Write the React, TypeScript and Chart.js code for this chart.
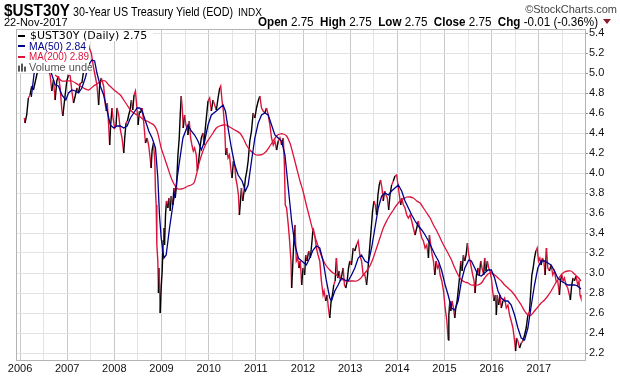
import React, { useEffect, useRef } from 'react';
import { Chart, registerables } from 'chart.js';

Chart.register(...registerables);

// ---- data (dates as decimal years) ----
const priceDates = [
  2006.092, 2006.106, 2006.142, 2006.177, 2006.213, 2006.248, 2006.284, 2006.355, 2006.40, 2006.44,
  2006.47, 2006.50, 2006.53, 2006.57, 2006.61, 2006.638, 2006.674, 2006.709, 2006.745, 2006.780,
  2006.816, 2006.851, 2006.887, 2006.908, 2006.957, 2006.993, 2007.028, 2007.064, 2007.099, 2007.135,
  2007.170, 2007.206, 2007.241, 2007.277, 2007.312, 2007.348, 2007.397, 2007.433, 2007.468, 2007.511,
  2007.560, 2007.582, 2007.610, 2007.631, 2007.667, 2007.688, 2007.723, 2007.773, 2007.809, 2007.830,
  2007.851, 2007.879, 2007.901, 2007.922, 2007.950, 2007.972, 2008.007, 2008.035, 2008.057, 2008.092,
  2008.128, 2008.163, 2008.199, 2008.220, 2008.248, 2008.277, 2008.305, 2008.333, 2008.362, 2008.390,
  2008.418, 2008.447, 2008.475, 2008.504, 2008.532, 2008.553, 2008.589, 2008.624, 2008.660, 2008.695,
  2008.730, 2008.759, 2008.780, 2008.801, 2008.830, 2008.858, 2008.872, 2008.887, 2008.901, 2008.922,
  2008.936, 2008.950, 2008.972, 2008.993, 2009.014, 2009.035, 2009.050, 2009.064, 2009.085, 2009.106,
  2009.135, 2009.156, 2009.184, 2009.206, 2009.241, 2009.262, 2009.291, 2009.319, 2009.348, 2009.376,
  2009.397, 2009.418, 2009.440, 2009.461, 2009.489, 2009.518, 2009.546, 2009.560, 2009.589, 2009.617,
  2009.645, 2009.674, 2009.702, 2009.738, 2009.759, 2009.787, 2009.816, 2009.844, 2009.879, 2009.901,
  2009.929, 2009.957, 2009.986, 2010.021, 2010.057, 2010.092, 2010.128, 2010.163, 2010.199, 2010.234,
  2010.255, 2010.284, 2010.312, 2010.340, 2010.362, 2010.383, 2010.411, 2010.440, 2010.468, 2010.496,
  2010.525, 2010.553, 2010.574, 2010.603, 2010.631, 2010.652, 2010.674, 2010.695, 2010.723, 2010.752,
  2010.780, 2010.809, 2010.837, 2010.872, 2010.908, 2010.943, 2010.979, 2011.014, 2011.050, 2011.085,
  2011.121, 2011.156, 2011.191, 2011.227, 2011.262, 2011.298, 2011.333, 2011.369, 2011.404, 2011.440,
  2011.475, 2011.511, 2011.546, 2011.582, 2011.603, 2011.624, 2011.652, 2011.688, 2011.716, 2011.745,
  2011.759, 2011.780, 2011.801, 2011.830, 2011.858, 2011.887, 2011.915, 2011.943, 2011.972, 2012.000,
  2012.035, 2012.057, 2012.085, 2012.121, 2012.156, 2012.191, 2012.213, 2012.248, 2012.284, 2012.319,
  2012.355, 2012.390, 2012.426, 2012.447, 2012.482, 2012.511, 2012.539, 2012.567, 2012.596, 2012.624,
  2012.652, 2012.681, 2012.709, 2012.738, 2012.766, 2012.794, 2012.823, 2012.851, 2012.879, 2012.908,
  2012.936, 2012.965, 2012.993, 2013.028, 2013.064, 2013.099, 2013.135, 2013.170, 2013.206, 2013.241,
  2013.277, 2013.312, 2013.348, 2013.369, 2013.390, 2013.418, 2013.447, 2013.475, 2013.504, 2013.532,
  2013.560, 2013.589, 2013.617, 2013.645, 2013.674, 2013.702, 2013.730, 2013.759, 2013.787, 2013.816,
  2013.844, 2013.879, 2013.915, 2013.950, 2013.986, 2014.014, 2014.043, 2014.071, 2014.092, 2014.128,
  2014.163, 2014.199, 2014.234, 2014.270, 2014.305, 2014.340, 2014.376, 2014.411, 2014.447, 2014.482,
  2014.518, 2014.553, 2014.589, 2014.624, 2014.660, 2014.681, 2014.709, 2014.738, 2014.766, 2014.794,
  2014.823, 2014.851, 2014.879, 2014.908, 2014.943, 2014.979, 2015.014, 2015.050, 2015.078, 2015.092,
  2015.113, 2015.134, 2015.162, 2015.190, 2015.218, 2015.239, 2015.268, 2015.296, 2015.324, 2015.345,
  2015.373, 2015.401, 2015.430, 2015.458, 2015.486, 2015.514, 2015.542, 2015.570, 2015.599, 2015.627,
  2015.648, 2015.676, 2015.711, 2015.739, 2015.768, 2015.796, 2015.831, 2015.852, 2015.880, 2015.908,
  2015.937, 2015.965, 2015.993, 2016.021, 2016.049, 2016.077, 2016.099, 2016.120, 2016.148, 2016.176,
  2016.204, 2016.239, 2016.275, 2016.310, 2016.345, 2016.380, 2016.415, 2016.451, 2016.486, 2016.507,
  2016.528, 2016.556, 2016.592, 2016.627, 2016.662, 2016.697, 2016.732, 2016.768, 2016.803, 2016.824,
  2016.852, 2016.880, 2016.908, 2016.937, 2016.965, 2016.993, 2017.021, 2017.049, 2017.077, 2017.106,
  2017.134, 2017.162, 2017.190, 2017.225, 2017.261, 2017.296, 2017.331, 2017.366, 2017.401, 2017.437,
  2017.458, 2017.486, 2017.514, 2017.542, 2017.577, 2017.613, 2017.648, 2017.669, 2017.697, 2017.725,
  2017.754, 2017.789, 2017.824, 2017.852, 2017.873, 2017.893,
];
const priceValues = [
  4.55, 4.50, 4.58, 4.75, 4.78, 4.87, 4.83, 4.98, 5.08, 5.17,
  5.12, 5.22, 5.14, 5.08, 5.02, 4.98, 4.82, 4.93, 4.73, 4.92,
  4.97, 4.85, 4.63, 4.57, 4.78, 4.92, 4.98, 4.97, 4.82, 4.70,
  4.77, 4.85, 4.80, 4.90, 4.90, 5.02, 5.12, 5.32, 5.25, 5.20,
  5.05, 5.00, 4.93, 4.88, 4.68, 4.87, 4.95, 4.87, 4.68, 4.62,
  4.70, 4.48, 4.28, 4.48, 4.65, 4.55, 4.45, 4.47, 4.65, 4.58,
  4.43, 4.35, 4.20, 4.35, 4.50, 4.52, 4.58, 4.63, 4.73, 4.63,
  4.78, 4.82, 4.67, 4.48, 4.62, 4.60, 4.65, 4.50, 4.30, 4.35,
  4.27, 4.15, 4.05, 4.23, 4.30, 4.12, 3.82, 3.68, 3.28, 3.12,
  2.80, 3.05, 2.60, 2.85, 3.02, 3.32, 3.45, 3.28, 3.58, 3.72,
  3.65, 3.75, 3.62, 3.77, 3.68, 3.85, 3.75, 3.88, 4.18, 4.35,
  4.58, 4.77, 4.65, 4.45, 4.58, 4.48, 4.45, 4.38, 4.52, 4.35,
  4.28, 4.22, 4.25, 4.18, 4.02, 4.12, 4.25, 4.35, 4.40, 4.28,
  4.45, 4.58, 4.72, 4.75, 4.62, 4.73, 4.68, 4.63, 4.75, 4.85,
  4.87, 4.72, 4.62, 4.45, 4.18, 4.25, 4.15, 4.18, 4.05, 3.95,
  4.12, 4.08, 3.95, 3.88, 3.78, 3.58, 3.72, 3.85, 3.72, 3.82,
  3.95, 4.02, 4.12, 4.32, 4.42, 4.60, 4.55, 4.65, 4.72, 4.77,
  4.65, 4.62, 4.60, 4.65, 4.58, 4.48, 4.35, 4.28, 4.32, 4.23,
  4.32, 4.35, 4.28, 4.35, 4.12, 3.68, 3.65, 3.48, 3.32, 3.12,
  2.85, 3.05, 3.28, 3.48, 3.12, 3.15, 3.05, 3.12, 2.88, 3.05,
  2.98, 3.18, 3.12, 3.22, 3.15, 3.32, 3.45, 3.38, 3.25, 3.18,
  3.12, 2.92, 2.78, 2.82, 2.72, 2.78, 2.65, 2.55, 2.72, 2.78,
  2.88, 2.92, 3.15, 2.95, 3.02, 2.92, 2.98, 3.05, 2.88, 2.85,
  2.92, 3.05, 3.12, 3.08, 3.25, 3.22, 3.28, 3.32, 3.18, 3.12,
  2.98, 2.98, 2.88, 2.98, 3.12, 3.28, 3.45, 3.62, 3.72, 3.68,
  3.58, 3.78, 3.88, 3.93, 3.85, 3.72, 3.82, 3.78, 3.75, 3.63,
  3.78, 3.88, 3.92, 3.97, 3.98, 3.88, 3.78, 3.68, 3.75, 3.68,
  3.65, 3.58, 3.55, 3.58, 3.52, 3.45, 3.38, 3.45, 3.52, 3.42,
  3.35, 3.32, 3.25, 3.28, 3.15, 3.38, 3.28, 3.18, 3.12, 2.98,
  3.12, 3.05, 3.08, 2.98, 2.92, 2.82, 2.65, 2.52, 2.33, 2.58,
  2.72, 2.62, 2.72, 2.65, 2.55, 2.65, 2.72, 2.85, 2.98, 3.12,
  3.02, 3.18, 3.12, 3.18, 3.30, 3.18, 3.12, 3.05, 2.98, 2.92,
  2.80, 2.98, 3.05, 2.98, 3.12, 3.05, 2.98, 3.15, 3.02, 3.12,
  3.05, 3.02, 2.95, 2.82, 2.72, 2.78, 2.58, 2.78, 2.68, 2.78,
  2.65, 2.72, 2.75, 2.65, 2.68, 2.58, 2.52, 2.45, 2.32, 2.22,
  2.35, 2.32, 2.25, 2.30, 2.32, 2.38, 2.45, 2.58, 2.62, 2.78,
  2.98, 3.05, 3.15, 3.22, 3.25, 3.12, 3.15, 3.08, 3.15, 3.12,
  2.98, 3.25, 3.05, 3.02, 3.08, 2.98, 3.02, 2.92, 2.92, 2.78,
  2.92, 2.98, 2.92, 2.95, 2.88, 2.85, 2.78, 2.73, 2.88, 2.95,
  2.92, 2.97, 2.88, 2.92, 2.78, 2.75,
];

const ma50Dates = [
  2006.24, 2006.30, 2006.36, 2006.45, 2006.55, 2006.65, 2006.745, 2006.816, 2006.887, 2006.972,
  2007.028, 2007.099, 2007.170, 2007.241, 2007.312, 2007.383, 2007.454, 2007.525, 2007.582, 2007.631,
  2007.702, 2007.773, 2007.844, 2007.915, 2007.986, 2008.057, 2008.128, 2008.199, 2008.270, 2008.340,
  2008.411, 2008.482, 2008.539, 2008.589, 2008.660, 2008.730, 2008.801, 2008.872, 2008.922, 2008.957,
  2008.993, 2009.050, 2009.099, 2009.170, 2009.241, 2009.312, 2009.383, 2009.454, 2009.560, 2009.631,
  2009.702, 2009.773, 2009.844, 2009.915, 2009.986, 2010.057, 2010.163, 2010.234, 2010.305, 2010.355,
  2010.411, 2010.482, 2010.553, 2010.624, 2010.709, 2010.780, 2010.837, 2010.908, 2010.979, 2011.050,
  2011.121, 2011.191, 2011.262, 2011.333, 2011.404, 2011.475, 2011.546, 2011.617, 2011.688, 2011.759,
  2011.830, 2011.901, 2011.972, 2012.071, 2012.142, 2012.213, 2012.284, 2012.355, 2012.426, 2012.496,
  2012.567, 2012.603, 2012.674, 2012.745, 2012.816, 2012.887, 2012.957, 2013.028, 2013.099, 2013.170,
  2013.241, 2013.312, 2013.383, 2013.454, 2013.525, 2013.596, 2013.667, 2013.738, 2013.809, 2013.879,
  2013.950, 2014.021, 2014.092, 2014.163, 2014.234, 2014.305, 2014.376, 2014.447, 2014.518, 2014.589,
  2014.660, 2014.730, 2014.801, 2014.872, 2014.943, 2015.014, 2015.077, 2015.148, 2015.218, 2015.289,
  2015.359, 2015.430, 2015.514, 2015.570, 2015.641, 2015.711, 2015.782, 2015.852, 2015.923, 2015.993,
  2016.063, 2016.134, 2016.204, 2016.275, 2016.345, 2016.415, 2016.486, 2016.556, 2016.627, 2016.697,
  2016.768, 2016.831, 2016.908, 2016.979, 2017.049, 2017.120, 2017.190, 2017.261, 2017.331, 2017.401,
  2017.472, 2017.542, 2017.613, 2017.683, 2017.754, 2017.824, 2017.893,
];
const ma50Values = [
  4.76, 5.00, 5.18, 5.16, 5.12, 5.02, 4.88, 4.87, 4.78, 4.73,
  4.80, 4.83, 4.82, 4.80, 4.85, 4.95, 5.08, 5.13, 5.12, 5.00,
  4.87, 4.78, 4.63, 4.48, 4.45, 4.47, 4.47, 4.45, 4.47, 4.55,
  4.60, 4.65, 4.65, 4.62, 4.52, 4.42, 4.35, 4.25, 3.95, 3.58,
  3.35, 3.15, 3.18, 3.45, 3.68, 3.88, 4.12, 4.35, 4.48, 4.42,
  4.38, 4.32, 4.23, 4.32, 4.48, 4.58, 4.62, 4.65, 4.68, 4.62,
  4.45, 4.25, 4.08, 3.98, 3.92, 3.82, 3.88, 4.12, 4.35, 4.50,
  4.58, 4.60, 4.58, 4.48, 4.38, 4.35, 4.32, 4.18, 3.85, 3.52,
  3.28, 3.15, 3.12, 3.08, 3.15, 3.23, 3.27, 3.25, 3.12, 2.92,
  2.75, 2.72, 2.82, 2.88, 2.95, 2.93, 2.92, 2.98, 3.05, 3.15,
  3.18, 3.12, 3.10, 3.25, 3.45, 3.65, 3.77, 3.80, 3.78, 3.82,
  3.85, 3.88, 3.82, 3.72, 3.65, 3.58, 3.52, 3.47, 3.43, 3.38,
  3.32, 3.25, 3.18, 3.12, 3.02, 2.88, 2.78, 2.65, 2.63, 2.72,
  2.92, 3.05, 3.13, 3.12, 3.05, 2.98, 2.97, 3.00, 3.03, 3.03,
  2.95, 2.82, 2.75, 2.72, 2.72, 2.68, 2.58, 2.45, 2.35, 2.33,
  2.45, 2.65, 2.88, 3.05, 3.12, 3.12, 3.10, 3.08, 3.02, 2.95,
  2.92, 2.90, 2.88, 2.88, 2.88, 2.87, 2.84,
];

const ma200Dates = [
  2006.745, 2006.816, 2006.887, 2006.993, 2007.099, 2007.241, 2007.348, 2007.454, 2007.560, 2007.631,
  2007.738, 2007.809, 2007.879, 2007.950, 2008.021, 2008.128, 2008.199, 2008.270, 2008.340, 2008.411,
  2008.482, 2008.553, 2008.624, 2008.695, 2008.766, 2008.837, 2008.908, 2008.993, 2009.064, 2009.135,
  2009.206, 2009.277, 2009.348, 2009.418, 2009.489, 2009.560, 2009.631, 2009.688, 2009.738, 2009.809,
  2009.879, 2009.950, 2010.021, 2010.092, 2010.163, 2010.234, 2010.305, 2010.376, 2010.447, 2010.553,
  2010.660, 2010.730, 2010.801, 2010.872, 2010.943, 2011.014, 2011.085, 2011.156, 2011.227, 2011.298,
  2011.369, 2011.440, 2011.511, 2011.582, 2011.652, 2011.723, 2011.794, 2011.865, 2011.936, 2012.000,
  2012.071, 2012.142, 2012.213, 2012.284, 2012.355, 2012.426, 2012.496, 2012.567, 2012.638, 2012.709,
  2012.780, 2012.851, 2012.922, 2012.993, 2013.064, 2013.135, 2013.206, 2013.277, 2013.348, 2013.418,
  2013.489, 2013.560, 2013.631, 2013.702, 2013.773, 2013.844, 2013.915, 2013.986, 2014.057, 2014.128,
  2014.199, 2014.270, 2014.340, 2014.411, 2014.482, 2014.553, 2014.624, 2014.695, 2014.766, 2014.837,
  2014.908, 2014.979, 2015.050, 2015.148, 2015.218, 2015.289, 2015.359, 2015.430, 2015.500, 2015.570,
  2015.641, 2015.711, 2015.782, 2015.852, 2015.923, 2015.993, 2016.063, 2016.134, 2016.204, 2016.275,
  2016.345, 2016.415, 2016.486, 2016.556, 2016.627, 2016.697, 2016.768, 2016.838, 2016.908, 2016.979,
  2017.049, 2017.120, 2017.190, 2017.261, 2017.331, 2017.401, 2017.472, 2017.542, 2017.613, 2017.683,
  2017.754, 2017.824, 2017.893,
];
const ma200Values = [
  4.98, 4.95, 4.92, 4.92, 4.92, 4.88, 4.85, 4.83, 4.87, 4.89,
  4.92, 4.92, 4.88, 4.85, 4.82, 4.78, 4.73, 4.68, 4.63, 4.60,
  4.58, 4.56, 4.53, 4.52, 4.50, 4.48, 4.42, 4.25, 4.15, 4.05,
  3.95, 3.88, 3.84, 3.84, 3.85, 3.87, 3.88, 3.90, 3.98, 4.12,
  4.22, 4.30, 4.35, 4.40, 4.45, 4.47, 4.48, 4.48, 4.46, 4.43,
  4.40, 4.35, 4.28, 4.23, 4.20, 4.18, 4.18, 4.19, 4.22, 4.27,
  4.32, 4.37, 4.39, 4.39, 4.37, 4.30, 4.18, 4.05, 3.92, 3.82,
  3.68, 3.55, 3.42, 3.32, 3.22, 3.13, 3.07, 3.03, 3.00, 2.98,
  2.95, 2.93, 2.92, 2.92, 2.92, 2.92, 2.94, 2.98, 3.02, 3.07,
  3.15, 3.25, 3.35, 3.45, 3.52, 3.58, 3.63, 3.68, 3.72, 3.74,
  3.76, 3.76, 3.75, 3.72, 3.70, 3.65, 3.60, 3.55, 3.48, 3.42,
  3.35, 3.28, 3.22, 3.13, 3.05, 2.98, 2.93, 2.91, 2.90, 2.88,
  2.88, 2.88, 2.90, 2.95, 2.99, 3.00, 2.98, 2.95, 2.92, 2.88,
  2.85, 2.82, 2.78, 2.73, 2.68, 2.62, 2.58, 2.58, 2.62, 2.66,
  2.70, 2.73, 2.77, 2.82, 2.88, 2.93, 2.98, 3.01, 3.02, 3.02,
  2.99, 2.96, 2.92,
];

const yearLabels = [2006, 2007, 2008, 2009, 2010, 2011, 2012, 2013, 2014, 2015, 2016, 2017];
const yTickValues = [2.2, 2.4, 2.6, 2.8, 3.0, 3.2, 3.4, 3.6, 3.8, 4.0, 4.2, 4.4, 4.6, 4.8, 5.0, 5.2, 5.4];

const symbol = '$UST30Y';
const titleText = '30-Year US Treasury Yield (EOD)';
const exchangeText = 'INDX';
const dateText = '22-Nov-2017';
const brandText = '\u00A9StockCharts.com';
const infoLabels = ['Open', 'High', 'Low', 'Close', 'Chg'];
const infoValues = ['2.75', '2.75', '2.75', '2.75', '-0.01 (-0.36%)'];
const legendItems = [
  { text: '$UST30Y (Daily) 2.75', color: '#000000', kind: 'line' },
  { text: 'MA(50) 2.84', color: '#00008b', kind: 'line' },
  { text: 'MA(200) 2.89', color: '#dc143c', kind: 'line' },
  { text: 'Volume undefined', color: '#555555', kind: 'bars' },
];

const SANS = '"Liberation Sans", Arial, sans-serif';
const LEG = '"DejaVu Sans", Verdana, sans-serif';
const RED = '#dc143c';
const NAVY = '#00008b';

const toPoints = (ts: number[], vs: number[]) => ts.map((t, i) => ({ x: t, y: vs[i] }));

const decorPlugin = {
  id: 'decor',
  afterDatasetsDraw(chart: any) {
    const { ctx, chartArea } = chart;
    ctx.save();
    const bx = chartArea.left + 1, by = chartArea.top + 1;
    ctx.fillStyle = '#ffffff';
    // legend background: wide first row, narrower rest
    ctx.fillRect(bx, by, 136, 11);
    ctx.fillRect(bx, by, 72, 43);
    ctx.textBaseline = 'middle';
    legendItems.forEach((it, i) => {
      const cy = 35.5 + i * 10.7;
      ctx.fillStyle = it.color;
      if (it.kind === 'line') {
        ctx.fillRect(18, Math.round(cy) - 1, 7, 2);
      } else {
        ctx.fillRect(18, cy - 2, 2, 6);
        ctx.fillRect(21, cy - 4, 2, 8);
        ctx.fillRect(24, cy - 1, 2, 5);
      }
      ctx.save();
      if (i === 0) {
        ctx.font = `11px ${LEG}`;
        ctx.fillText(it.text, 30, cy + 0.5);
      } else {
        ctx.beginPath();
        ctx.rect(bx, cy - 6, 75, 12);
        ctx.clip();
        ctx.font = `11px ${SANS}`;
        if (i === 3) ctx.fillText(it.text, 29, cy + 0.5);
        else ctx.fillText(it.text, 29, cy + 0.5, i === 1 ? 57 : 60);
      }
      ctx.restore();
    });
    ctx.restore();
    // frame
    ctx.save();
    ctx.strokeStyle = '#b4b4b4';
    ctx.lineWidth = 1;
    ctx.strokeRect(chartArea.left + 0.5, chartArea.top + 0.5, chartArea.right - chartArea.left - 1, chartArea.bottom - chartArea.top);
    ctx.restore();
  },
  afterDraw(chart: any) {
    const { ctx } = chart;
    ctx.save();
    ctx.textBaseline = 'alphabetic';
    ctx.fillStyle = '#000';
    ctx.font = `bold 16px ${SANS}`;
    ctx.fillText(symbol, 4, 16, 66);
    ctx.font = `13px ${SANS}`;
    ctx.fillText(titleText, 73, 16, 160);
    ctx.font = `10px ${SANS}`;
    ctx.fillText(exchangeText, 238, 16, 27);
    ctx.fillStyle = '#444';
    ctx.font = `11px ${SANS}`;
    ctx.textAlign = 'right';
    ctx.fillText(brandText, 617, 13);
    ctx.textAlign = 'left';
    ctx.fillStyle = '#000';
    ctx.font = `11px ${SANS}`;
    ctx.fillText(dateText, 4, 26, 66);
    const parts: { t: string; b: boolean }[] = [];
    infoLabels.forEach((l, i) => {
      parts.push({ t: l, b: true });
      parts.push({ t: ' ' + infoValues[i] + (i < infoLabels.length - 1 ? '  ' : ''), b: false });
    });
    let total = 0;
    const widths = parts.map((p) => {
      ctx.font = `${p.b ? 'bold ' : ''}12px ${SANS}`;
      const w = ctx.measureText(p.t).width;
      total += w;
      return w;
    });
    const sx = 340 / total;
    ctx.save();
    ctx.translate(258, 26);
    ctx.scale(sx, 1);
    let x = 0;
    parts.forEach((p, i) => {
      ctx.font = `${p.b ? 'bold ' : ''}12px ${SANS}`;
      ctx.fillText(p.t, x, 0);
      x += widths[i];
    });
    ctx.restore();
    ctx.fillStyle = '#8b1a2a';
    ctx.beginPath();
    ctx.moveTo(603, 19);
    ctx.lineTo(611, 19);
    ctx.lineTo(607, 24);
    ctx.closePath();
    ctx.fill();
    ctx.restore();
  },
};

export default function App() {
  const ref = useRef<HTMLCanvasElement>(null);
  useEffect(() => {
    const canvas = ref.current;
    if (!canvas) return;
    const halfYears = yearLabels.flatMap((y) => [y, y + 0.5]);
    const chart = new Chart(canvas, {
      type: 'line',
      data: {
        datasets: [
          { label: 'MA(50)', data: toPoints(ma50Dates, ma50Values), borderColor: NAVY, borderWidth: 1.3, pointRadius: 0, tension: 0 },
          { label: 'MA(200)', data: toPoints(ma200Dates, ma200Values), borderColor: RED, borderWidth: 1.3, pointRadius: 0, tension: 0.3 },
          {
            label: '$UST30Y',
            data: toPoints(priceDates, priceValues),
            borderColor: RED,
            borderWidth: 1.4,
            pointRadius: 0,
            tension: 0,
            segment: {
              borderColor: (c: any) => (c.p1.parsed.y > c.p0.parsed.y + 0.04 ? '#000000' : RED),
            },
          },
        ],
      },
      options: {
        responsive: false,
        animation: false,
        events: [],
        layout: { padding: { left: 16, top: 29, right: 0, bottom: 0 } },
        plugins: { legend: { display: false }, tooltip: { enabled: false }, title: { display: false } },
        scales: {
          x: {
            type: 'linear',
            min: 2005.915,
            max: 2018.0,
            afterBuildTicks: (s: any) => {
              s.ticks = halfYears.map((v) => ({ value: v }));
            },
            afterFit: (s: any) => {
              s.height = 16;
            },
            grid: {
              color: (c: any) => (c.tick && Number.isInteger(c.tick.value) ? '#c8c8c8' : '#e3e3e3'),
              drawTicks: false,
              lineWidth: 1,
            },
            border: { display: false },
            ticks: {
              autoSkip: false,
              maxRotation: 0,
              padding: 2,
              color: '#111',
              font: { family: SANS, size: 11 },
              callback: (v: any) => (Number.isInteger(v) ? String(v) : ''),
            },
          },
          y: {
            position: 'right',
            min: 2.13,
            max: 5.44,
            afterBuildTicks: (s: any) => {
              s.ticks = yTickValues.map((v) => ({ value: v }));
            },
            afterFit: (s: any) => {
              s.width = 34;
            },
            grid: { color: '#e3e3e3', tickLength: 2, tickColor: '#999', drawTicks: true },
            border: { display: false },
            ticks: {
              padding: 1,
              color: '#111',
              font: { family: SANS, size: 11 },
              callback: (v: any) => Number(v).toFixed(1),
            },
          },
        },
      },
      plugins: [decorPlugin],
    } as any);
    return () => chart.destroy();
  }, []);
  return (
    <div style={{ position: 'absolute', left: 0, top: 0, width: 620, height: 376, background: '#fff' }}>
      <canvas ref={ref} width={620} height={376} style={{ display: 'block' }} />
    </div>
  );
}
